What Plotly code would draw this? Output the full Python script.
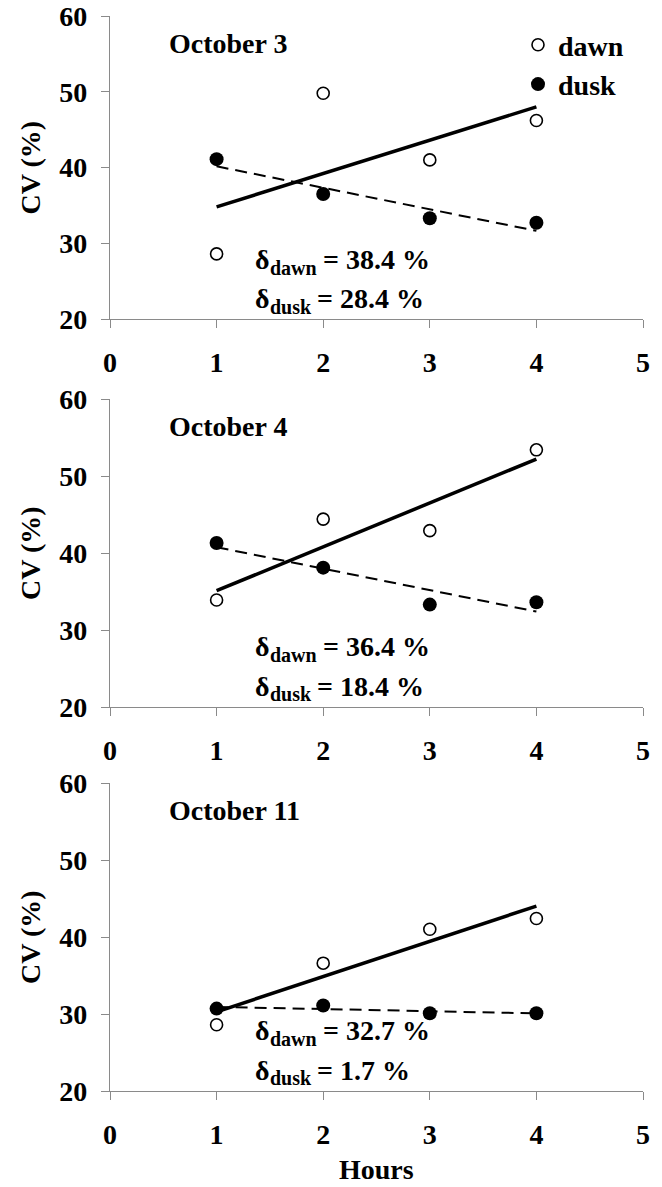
import numpy as np
import plotly.graph_objects as go

# Sampling hours
hours = [1, 2, 3, 4]

# Coefficient of variation (%) per day
dawn_oct3 = [28.6, 49.8, 41.0, 46.2]
dusk_oct3 = [41.1, 36.5, 33.3, 32.7]
dawn_oct4 = [33.9, 44.4, 42.9, 53.4]
dusk_oct4 = [41.3, 38.1, 33.3, 33.6]
dawn_oct11 = [28.6, 36.6, 41.0, 42.4]
dusk_oct11 = [30.7, 31.1, 30.1, 30.1]

panel_titles = ["October 3", "October 4", "October 11"]
delta_dawn = ["38.4", "36.4", "32.7"]
delta_dusk = ["28.4", "18.4", "1.7"]

x_ticks = [0, 1, 2, 3, 4, 5]
y_ticks = [20, 30, 40, 50, 60]

W, H = 662, 1187
FONT = "Liberation Serif, Times New Roman, serif"
FS = 28
SUB_FS = 20
AX_GRAY = "#8a8a8a"

# plot-area pixel boxes (top, bottom) for each panel
panel_px = [(16, 319), (399, 707), (783, 1091)]
x_px = (110, 643)

panels = [
    (dawn_oct3, dusk_oct3),
    (dawn_oct4, dusk_oct4),
    (dawn_oct11, dusk_oct11),
]

bold = dict(family=FONT, size=FS, color="black", weight="bold")
bold_sub = dict(family=FONT, size=SUB_FS, color="black", weight="bold")

# advance widths (em) of Times-metric bold lowercase, for placing the subscripts
EM = {"d": 0.556, "a": 0.5, "w": 0.722, "n": 0.556, "u": 0.556, "s": 0.389, "k": 0.556}


def text_width(s, size):
    return sum(EM[c] for c in s) * size


fig = go.Figure()

for i, (dawn, dusk) in enumerate(panels):
    sfx = "" if i == 0 else str(i + 1)
    xa, ya = "x" + sfx, "y" + sfx

    # least-squares trend lines over the sampled hours
    xs = np.array(hours, dtype=float)
    for vals, dash, width in ((dawn, "solid", 3.5), (dusk, "12px,7px", 2)):
        k, b = np.polyfit(xs, np.array(vals), 1)
        xl = np.array([xs.min(), xs.max()])
        fig.add_trace(go.Scatter(
            x=xl, y=k * xl + b, mode="lines",
            line=dict(color="black", width=width, dash=dash),
            xaxis=xa, yaxis=ya, showlegend=False, hoverinfo="skip",
        ))

    fig.add_trace(go.Scatter(
        x=hours, y=dawn, mode="markers", name="dawn",
        marker=dict(symbol="circle", size=12, color="white",
                    line=dict(color="black", width=1.6)),
        xaxis=xa, yaxis=ya, showlegend=(i == 0),
    ))
    fig.add_trace(go.Scatter(
        x=hours, y=dusk, mode="markers", name="dusk",
        marker=dict(symbol="circle", size=14, color="black",
                    line=dict(color="black", width=0)),
        xaxis=xa, yaxis=ya, showlegend=(i == 0),
    ))

    top, bot = panel_px[i]
    axis_common = dict(
        showline=True, linecolor=AX_GRAY, linewidth=1.2,
        ticks="outside", ticklen=8, tickcolor=AX_GRAY, tickwidth=1.2,
        showgrid=False, zeroline=False, tickfont=bold, automargin=False,
    )
    fig.update_layout(**{
        "xaxis" + sfx: dict(
            domain=[x_px[0] / W, x_px[1] / W], anchor=ya,
            range=[0, 5], tickvals=x_ticks, ticklabelstandoff=10,
            **axis_common),
        "yaxis" + sfx: dict(
            domain=[1 - bot / H, 1 - top / H], anchor=xa,
            range=[20, 60], tickvals=y_ticks, ticklabelstandoff=8,
            **axis_common),
    })

    # y-axis title
    fig.add_annotation(
        text="CV (%)", textangle=-90, xref="paper", yref="paper",
        x=30 / W, y=1 - (top + bot) / 2 / H, showarrow=False,
        xanchor="center", yanchor="middle", font=bold,
    )
    # panel title
    fig.add_annotation(
        text=panel_titles[i], xref="paper", yref="paper",
        x=167 / W, y=1 - (top + 27) / H, showarrow=False,
        xanchor="left", yanchor="middle", font=bold,
    )
    # slope differences: delta, subscript, then the value
    sx = 1.50
    for label, val, yv in (("dawn", delta_dawn[i], 27.8), ("dusk", delta_dusk[i], 22.7)):
        common = dict(xref=xa, yref=ya, x=sx, y=yv, showarrow=False,
                      yanchor="middle", borderpad=0, borderwidth=0)
        fig.add_annotation(text="δ", xanchor="right", font=bold, **common)
        fig.add_annotation(text=label, xanchor="left", yshift=-8,
                           font=bold_sub, **common)
        fig.add_annotation(text=f"= {val} %", xanchor="left",
                           xshift=text_width(label, SUB_FS) + 6,
                           font=bold, **common)

fig.add_annotation(
    text="Hours", xref="paper", yref="paper",
    x=(x_px[0] + x_px[1]) / 2 / W, y=1 / H, showarrow=False,
    xanchor="center", yanchor="bottom", borderpad=0, font=bold,
)

fig.update_layout(
    width=W, height=H,
    margin=dict(l=0, r=0, t=0, b=0, autoexpand=False),
    paper_bgcolor="white", plot_bgcolor="white",
    showlegend=True,
    legend=dict(
        x=518 / W, y=1 - 20 / H, xanchor="left", yanchor="top",
        bgcolor="rgba(0,0,0,0)", tracegroupgap=0,
        font=bold, itemwidth=30,
    ),
)

fig.write_html("out.html")
